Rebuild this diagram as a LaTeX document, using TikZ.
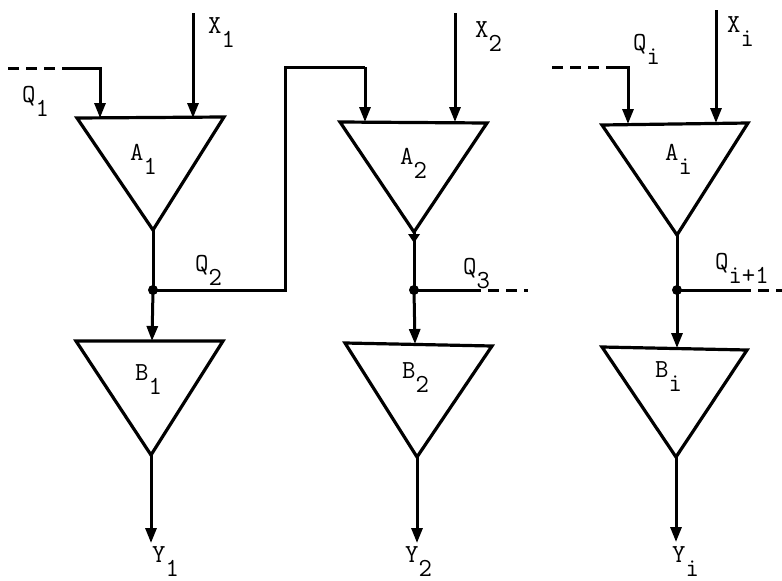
\documentclass[tikz,border=0pt]{standalone}
\usepackage{fontspec}
\usetikzlibrary{arrows.meta}
\newcommand\sbx[2]{#1\raisebox{-0.55em}{#2}}
\begin{document}
\begin{tikzpicture}[x=1pt,y=-1pt,
  wire/.style={line width=3pt},
  arr/.style={wire,-{Triangle[length=15pt,width=11pt]}},
  tri/.style={line width=3.2pt,line join=miter},
  dsh/.style={wire,dash pattern=on 11pt off 7pt},
  lbl/.style={inner sep=0pt,anchor=base west,font=\fontsize{26}{26}\selectfont\ttfamily},
  dot/.style={circle,fill,inner sep=0pt,minimum size=10pt}]
\useasboundingbox (0,0) rectangle (782,581);

% ---------- column 1 ----------
\coordinate (A1l) at (77,118); \coordinate (A1r) at (224,117); \coordinate (A1a) at (153,230);
\coordinate (A1q) at (100,118); \coordinate (A1x) at (193,118);
\coordinate (X1s) at (193,13);
\coordinate (Q1s) at (8,68); \coordinate (Q1c) at (68,68); \coordinate (Q1k) at (100,68);
\node[dot] (J1) at (153,290) {};
\coordinate (B1l) at (76,341); \coordinate (B1r) at (223,341); \coordinate (B1a) at (151,455);
\coordinate (B1t) at (152,341); \coordinate (Y1e) at (151,543);
\coordinate (F1) at (285,290); \coordinate (F2) at (285,67); \coordinate (F3) at (365,67);

\draw[tri] (A1l) -- (A1r) -- (A1a) -- cycle;
\draw[tri] (B1l) -- (B1r) -- (B1a) -- cycle;
\draw[arr] (X1s) -- (A1x);
\draw[dsh] (Q1s) -- (Q1c);
\draw[arr] (Q1c) -- (Q1k) -- (A1q);
\draw[wire] (A1a) -- (J1.center);
\draw[arr] (J1.center) -- (B1t);
\draw[arr] (B1a) -- (Y1e);

\node[lbl] (lX1) at (208,33) {\sbx{X}{1}};
\node[lbl] (lQ1) at (22,102) {\sbx{Q}{1}};
\node[lbl] (lA1) at (130,160) {\sbx{A}{1}};
\node[lbl] (lQ2) at (195,271) {\sbx{Q}{2}};
\node[lbl] (lB1) at (135,380) {\sbx{B}{1}};
\node[lbl] (lY1) at (152,562) {\sbx{Y}{1}};

% ---------- column 2 ----------
\coordinate (A2l) at (340,122); \coordinate (A2r) at (487,123); \coordinate (A2a) at (414,232);
\coordinate (A2q) at (365,122); \coordinate (A2x) at (455,122);
\coordinate (X2s) at (455,13);
\node[dot] (J2) at (414,290) {};
\coordinate (B2l) at (345,343); \coordinate (B2r) at (492,346); \coordinate (B2a) at (417,457);
\coordinate (B2t) at (415,344); \coordinate (Y2e) at (417,543);
\coordinate (Q3m) at (470,290); \coordinate (Q3e) at (528,290);

\draw[wire] (J1.center) -- (F1) -- (F2) -- (F3);
\draw[arr] (F3) -- (A2q);
\draw[tri] (A2l) -- (A2r) -- (A2a) -- cycle;
\draw[tri] (B2l) -- (B2r) -- (B2a) -- cycle;
\draw[arr] (X2s) -- (A2x);
\fill (A2a) ++(-6,2) -- ++(12,0) -- ++(-6,9) -- cycle;
\draw[wire] (A2a) -- (J2.center);
\draw[arr] (J2.center) -- (B2t);
\draw[arr] (B2a) -- (Y2e);
\draw[wire] (J2.center) -- (Q3m);
\draw[dsh] (Q3m) -- (Q3e);

\node[lbl] (lX2) at (475,37) {\sbx{X}{2}};
\node[lbl] (lA2) at (400,164) {\sbx{A}{2}};
\node[lbl] (lQ3) at (463,274) {\sbx{Q}{3}};
\node[lbl] (lB2) at (402,378) {\sbx{B}{2}};
\node[lbl] (lY2) at (405,562) {\sbx{Y}{2}};

% ---------- column i ----------
\coordinate (Ail) at (602,125); \coordinate (Air) at (748,123); \coordinate (Aia) at (677,235);
\coordinate (Aiq) at (628,124); \coordinate (Aix) at (716,123);
\coordinate (Xis) at (716,10);
\coordinate (Qis) at (552,67); \coordinate (Qim) at (615,67); \coordinate (Qik) at (628,67);
\node[dot] (Ji) at (677,290) {};
\coordinate (Bil) at (602,347); \coordinate (Bir) at (747,350); \coordinate (Bia) at (676,457);
\coordinate (Bit) at (677,348); \coordinate (Yie) at (676,542);
\coordinate (Qnm) at (740,290); \coordinate (Qne) at (782,290);

\draw[tri] (Ail) -- (Air) -- (Aia) -- cycle;
\draw[tri] (Bil) -- (Bir) -- (Bia) -- cycle;
\draw[arr] (Xis) -- (Aix);
\draw[dsh] (Qis) -- (Qim);
\draw[arr] (Qim) -- (Qik) -- (Aiq);
\draw[wire] (Aia) -- (Ji.center);
\draw[arr] (Ji.center) -- (Bit);
\draw[arr] (Bia) -- (Yie);
\draw[wire] (Ji.center) -- (Qnm);
\draw[dsh] (Qnm) -- (Qne);

\node[lbl] (lXi) at (727,32) {\sbx{X}{i}};
\node[lbl] (lQi) at (633,50) {\sbx{Q}{i}};
\node[lbl] (lAi) at (665,160) {\sbx{A}{i}};
\node[lbl] (lQn) at (715,269) {\sbx{Q}{i+1}};
\node[lbl] (lBi) at (655,377) {\sbx{B}{i}};
\node[lbl] (lYi) at (672,562) {\sbx{Y}{i}};
\end{tikzpicture}
\end{document}
